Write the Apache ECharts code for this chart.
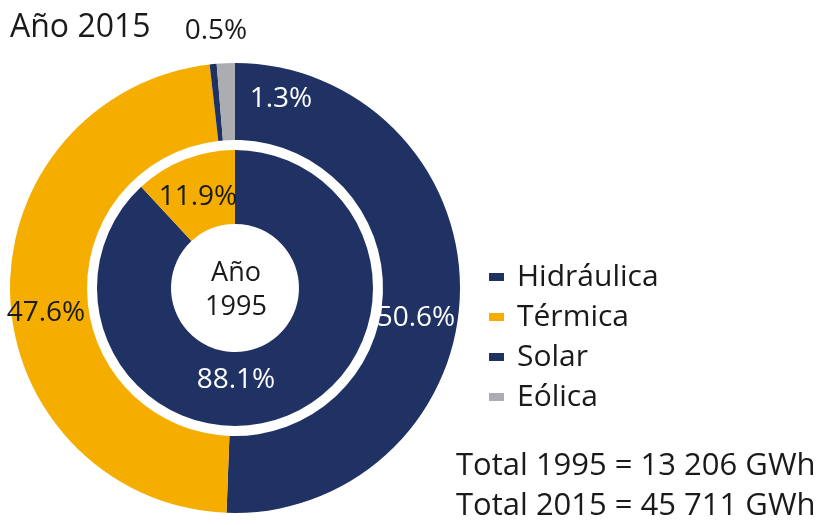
<!DOCTYPE html>
<html>
<head>
<meta charset="utf-8">
<script src="https://cdn.jsdelivr.net/npm/echarts@6/dist/echarts.min.js"></script>
<style>
  html, body { margin: 0; padding: 0; background: #fff; }
  #chart { width: 826px; height: 525px; }
</style>
</head>
<body>
<div id="chart"></div>
<script>
// data
const sources = ['Hidráulica', 'Térmica', 'Solar', 'Eólica']
const share2015 = [50.6, 47.6, 0.5, 1.3]
const sources1995 = ['Hidráulica', 'Térmica']
const share1995 = [88.1, 11.9]
const totals = ['Total 1995 = 13 206 GWh', 'Total 2015 = 45 711 GWh']

const colors = { 'Hidráulica': '#203163', 'Térmica': '#F5AE00', 'Solar': '#203163', 'Eólica': '#ABADB0' }
const font = '"Open Sans", "Noto Sans", sans-serif'
const ink = '#1a1a1a'

// where the percent labels sit (label centres), by slice order
const outerLabelPos = [
  [416, 318, '#fff'],
  [46, 313, ink],
  [216, 31, ink],
  [281, 99, '#fff'],
]
const innerLabelPos = [
  [236, 380, '#fff'],
  [198, 197, ink],
]

const center = [235, 288]

function ringData(names, values, pos) {
  return names.map((n, i) => ({
    name: n,
    value: values[i],
    itemStyle: { color: colors[n] },
    label: { color: pos[i][2] },
  }))
}
function placer(pos) {
  return (params) => ({ x: pos[params.dataIndex][0], y: pos[params.dataIndex][1] })
}
const labelStyle = {
  show: true,
  position: 'inside',
  fontFamily: font,
  fontSize: 28,
  align: 'center',
  verticalAlign: 'middle',
  formatter: (p) => p.value.toFixed(1) + '%',
}

const chart = echarts.init(document.getElementById('chart'), null, { renderer: 'canvas' })

const option = {
  animation: false,
  legend: {
    orient: 'vertical',
    left: 484,
    top: 257,
    itemWidth: 15,
    itemHeight: 8,
    itemGap: 10,
    icon: 'rect',
    data: sources,
    textStyle: { fontFamily: font, fontSize: 30, color: ink, padding: [0, 0, 0, 8] },
    selectedMode: false,
  },
  graphic: [
    { type: 'text', left: 10, top: 12, style: { text: 'Año 2015', font: '32px ' + font, fill: ink } },
    {
      type: 'text', x: center[0] + 1, y: center[1] + 2,
      style: { text: 'Año\n1995', font: '27px ' + font, fill: ink, align: 'center', verticalAlign: 'middle', lineHeight: 34 },
    },
    { type: 'text', left: 456, top: 451, style: { text: totals[0], font: '31px ' + font, fill: ink } },
    { type: 'text', left: 456, top: 491, style: { text: totals[1], font: '31px ' + font, fill: ink } },
  ],
  series: [
    {
      name: '2015',
      type: 'pie',
      center: center,
      radius: [148, 225],
      startAngle: 90,
      clockwise: true,
      label: labelStyle,
      labelLine: { show: false },
      labelLayout: placer(outerLabelPos),
      emphasis: { disabled: true },
      data: ringData(sources, share2015, outerLabelPos),
    },
    {
      name: '1995',
      type: 'pie',
      center: center,
      radius: [64, 138],
      startAngle: 90,
      clockwise: true,
      label: labelStyle,
      labelLine: { show: false },
      labelLayout: placer(innerLabelPos),
      emphasis: { disabled: true },
      data: ringData(sources1995, share1995, innerLabelPos),
    },
  ],
}
chart.setOption(option)
</script>
</body>
</html>
